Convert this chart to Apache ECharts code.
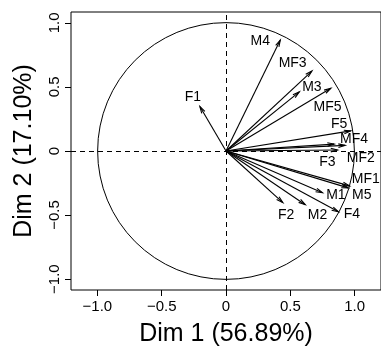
<!DOCTYPE html>
<html>
<head>
<meta charset="utf-8">
<script src="https://cdn.jsdelivr.net/npm/echarts@6/dist/echarts.min.js"></script>
<style>
html,body{margin:0;padding:0;background:#fff;}
#chart{width:381px;height:352px;}
</style>
</head>
<body>
<div id="chart"></div>
<script>
// Variable names and coordinates on Dim 1 / Dim 2
var varNames = ['F1','F2','F3','F4','F5','M1','M2','M3','M4','M5','MF1','MF2','MF3','MF4','MF5'];
var dim1 = [-0.203, 0.442, 0.867, 0.874, 0.970, 0.750, 0.616, 0.570, 0.422, 0.950, 0.960, 0.841, 0.668, 0.926, 0.815];
var dim2 = [ 0.347,-0.403, 0.008,-0.475, 0.157,-0.326,-0.419, 0.461, 0.866,-0.288,-0.272, 0.054, 0.624, 0.044, 0.490];
// Label anchor positions (as placed by the label-avoidance routine), in data units
var labelX = [-0.257, 0.467, 0.789, 0.978, 0.880, 0.854, 0.712, 0.668, 0.267, 1.056, 1.087, 1.048, 0.518, 0.996, 0.789];
var labelY = [ 0.424,-0.501,-0.088,-0.496, 0.209,-0.346,-0.501, 0.498, 0.855,-0.346,-0.217,-0.057, 0.688, 0.093, 0.346];
// Axis ticks
var xTicks = [-1, -0.5, 0, 0.5, 1];
var yTicks = [-1, -0.5, 0, 0.5, 1];
var xTitle = 'Dim 1 (56.89%)';
var yTitle = 'Dim 2 (17.10%)';

function fmt(v){
  if (v === 0) return '0';
  var s = Math.abs(v).toFixed(1);
  return v < 0 ? '\u2212' + s : s;
}

var FONT = 'Liberation Sans, Arial, Helvetica, sans-serif';
var chart = echarts.init(document.getElementById('chart'), null, {renderer:'canvas'});

var arrowData = varNames.map(function(n,i){ return [dim1[i], dim2[i]]; });
var labelData = varNames.map(function(n,i){ return [labelX[i], labelY[i], n]; });

chart.setOption({
  animation: false,
  backgroundColor: '#ffffff',
  grid: {left: 71, top: 12, width: 311, height: 280, show: true, borderColor: '#000', borderWidth: 1, backgroundColor: 'transparent'},
  xAxis: {
    type: 'value', min: -1.205, max: 1.205,
    axisLine: {show: false, onZero: false},
    splitLine: {show: false},
    axisTick: {show: true, inside: false, length: 6, customValues: xTicks, lineStyle: {color:'#000', width:1}},
    axisLabel: {show: true, customValues: xTicks, formatter: fmt, fontSize: 15, color: '#000', fontFamily: FONT, margin: 9},
    name: xTitle, nameLocation: 'middle', nameGap: 32,
    nameTextStyle: {fontSize: 25, color: '#000', fontFamily: FONT}
  },
  yAxis: {
    type: 'value', min: -1.085, max: 1.085,
    axisLine: {show: false, onZero: false},
    splitLine: {show: false},
    axisTick: {show: true, inside: false, length: 6, customValues: yTicks, lineStyle: {color:'#000', width:1}},
    axisLabel: {show: true, customValues: yTicks, formatter: fmt, rotate: 90, fontSize: 15, color: '#000', fontFamily: FONT, margin: 9},
    name: yTitle, nameLocation: 'middle', nameGap: 34, nameRotate: 90,
    nameTextStyle: {fontSize: 25, color: '#000', fontFamily: FONT}
  },
  series: [
    {
      type: 'custom', silent: true, data: [[0,0]],
      renderItem: function(params, api){
        var c = api.coord([0,0]);
        var r = api.size([1,1]);
        return {type:'circle', shape:{cx:c[0], cy:c[1], r:(r[0]+r[1])/2}, style:{fill:'none', stroke:'#000', lineWidth:1}};
      },
      markLine: {
        silent: true, symbol: ['none','none'], label:{show:false},
        lineStyle: {type:[5,4], color:'#000', width:1},
        data: [{xAxis: 0}, {yAxis: 0}]
      }
    },
    {
      type: 'custom', silent: true, data: arrowData,
      renderItem: function(params, api){
        var o = api.coord([0,0]);
        var t = api.coord([api.value(0), api.value(1)]);
        var ang = Math.atan2(t[1]-o[1], t[0]-o[0]);
        var L = 7, a = 15*Math.PI/180;
        var p1 = [t[0] - L*Math.cos(ang - a), t[1] - L*Math.sin(ang - a)];
        var p2 = [t[0] - L*Math.cos(ang + a), t[1] - L*Math.sin(ang + a)];
        return {type:'group', children:[
          {type:'line', shape:{x1:o[0], y1:o[1], x2:t[0], y2:t[1]}, style:{stroke:'#000', lineWidth:1.1}},
          {type:'polyline', shape:{points:[p1, t, p2]}, style:{stroke:'#000', fill:'none', lineWidth:1.1}}
        ]};
      }
    },
    {
      type: 'custom', silent: true, data: labelData,
      renderItem: function(params, api){
        var p = api.coord([api.value(0), api.value(1)]);
        return {type:'text', x:p[0], y:p[1], style:{text: labelData[params.dataIndex][2], fill:'#000', font: '14px ' + FONT, textAlign:'center', textVerticalAlign:'middle'}};
      }
    }
  ]
});
</script>
</body>
</html>
